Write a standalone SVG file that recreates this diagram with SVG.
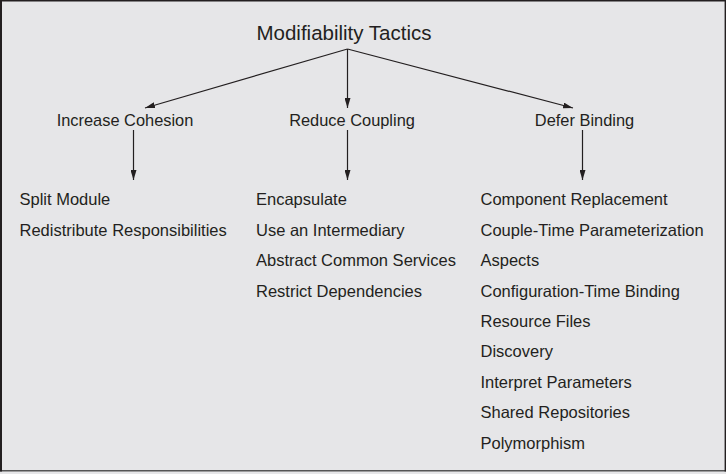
<svg xmlns="http://www.w3.org/2000/svg" width="726" height="474" viewBox="0 0 726 474">
<style>
text{font-family:"Liberation Sans",Arial,sans-serif;fill:#231f20}
.t{font-size:20.5px}
.c{font-size:16.4px;text-anchor:middle}
.i{font-size:16.5px}
.e{stroke:#231f20;stroke-width:1.2;fill:none;marker-end:url(#ah)}
</style>
<defs>
<marker id="ah" viewBox="0 0 10 6" refX="10" refY="3" markerWidth="10" markerHeight="6" markerUnits="userSpaceOnUse" orient="auto">
<path d="M0,0 L10,3 L0,6 Z" fill="#231f20"/>
</marker>
</defs>
<rect x="0" y="0" width="726" height="474" fill="#e6e6e8"/>
<line x1="0" y1="470.8" x2="726" y2="470.8" stroke="#555" stroke-width="1.4"/>
<line x1="0" y1="0.7" x2="726" y2="0.7" stroke="#231f20" stroke-width="1.4"/>
<line x1="1" y1="0" x2="1" y2="471.5" stroke="#231f20" stroke-width="2"/>
<line x1="725.3" y1="0" x2="725.3" y2="471.5" stroke="#231f20" stroke-width="1.4"/>
<g id="connectors">
<line class="e" x1="347.5" y1="49" x2="145" y2="108"/>
<line class="e" x1="347.5" y1="49" x2="347.5" y2="108"/>
<line class="e" x1="347.5" y1="49" x2="573" y2="108"/>
<line class="e" x1="133.5" y1="130" x2="133.5" y2="180"/>
<line class="e" x1="347.5" y1="130" x2="347.5" y2="180"/>
<line class="e" x1="582.5" y1="130" x2="582.5" y2="180"/>
</g>
<g id="root"><text class="t" x="344" y="39.5" text-anchor="middle">Modifiability Tactics</text></g>
<g id="cohesion"><text class="c" x="125" y="126">Increase Cohesion</text></g>
<g id="coupling"><text class="c" x="352" y="126">Reduce Coupling</text></g>
<g id="binding"><text class="c" x="584.5" y="126">Defer Binding</text></g>
<g id="cohesion-items">
<text class="i" x="19.5" y="205">Split Module</text>
<text class="i" x="19.5" y="235.5">Redistribute Responsibilities</text>
</g>
<g id="coupling-items">
<text class="i" x="256" y="205">Encapsulate</text>
<text class="i" x="256" y="235.5">Use an Intermediary</text>
<text class="i" x="256" y="266">Abstract Common Services</text>
<text class="i" x="256" y="296.5">Restrict Dependencies</text>
</g>
<g id="binding-items">
<text class="i" x="480.5" y="205">Component Replacement</text>
<text class="i" x="480.5" y="235.5">Couple-Time Parameterization</text>
<text class="i" x="480.5" y="266">Aspects</text>
<text class="i" x="480.5" y="296.5">Configuration-Time Binding</text>
<text class="i" x="480.5" y="327">Resource Files</text>
<text class="i" x="480.5" y="357">Discovery</text>
<text class="i" x="480.5" y="387.5">Interpret Parameters</text>
<text class="i" x="480.5" y="418">Shared Repositories</text>
<text class="i" x="480.5" y="448.5">Polymorphism</text>
</g>
</svg>
